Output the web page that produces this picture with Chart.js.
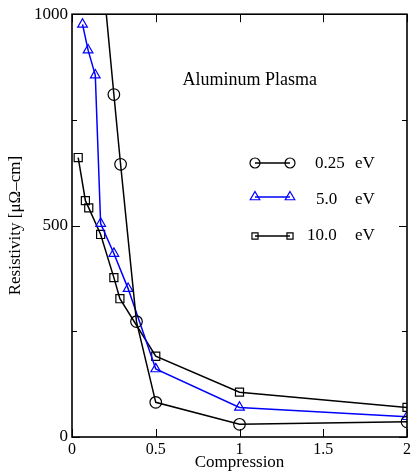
<!DOCTYPE html>
<html>
<head>
<meta charset="utf-8">
<script src="https://cdn.jsdelivr.net/npm/chart.js@4/dist/chart.umd.min.js"></script>
<style>
  body { margin: 0; background: #fff; }
  #wrap { width: 414px; height: 471px; }
</style>
</head>
<body>
<div id="wrap"><canvas id="grafik"></canvas></div>
<script>
// 0.25 eV (circles) - first point sits above the top of the frame
const lowX = [0.15, 0.25, 0.29, 0.385, 0.5, 1.0, 2.0];
const lowY = [1230, 810, 645, 273, 82, 30, 36];

// 5.0 eV (triangles)
const midX = [0.063, 0.096, 0.139, 0.171, 0.25, 0.335, 0.5, 1.0, 2.0];
const midY = [976, 915, 856, 505, 434, 351, 161, 70, 48];

// 10.0 eV (squares)
const highX = [0.037, 0.08, 0.1, 0.171, 0.25, 0.286, 0.5, 1.0, 2.0];
const highY = [661, 559, 542, 479, 377, 327, 191, 106, 70];

const xTicks = [0, 0.5, 1, 1.5, 2];
const yTicks = [0, 500, 1000];
const yMinor = [250, 750];

const serif = "'Liberation Serif', 'Times New Roman', serif";

function pts(xs, ys) {
    return xs.map((x, i) => ({ x: x, y: ys[i] }));
}

// frame, inward tick marks, legend and label inside the plot
const frameAndLegend = {
    id: "frameAndLegend",
    afterDraw(chart) {
        const ctx = chart.ctx;
        const a = chart.chartArea;
        const xs = chart.scales.x;
        const ys = chart.scales.y;
        ctx.save();
        ctx.strokeStyle = "#000";
        ctx.lineWidth = 1.6;
        ctx.strokeRect(a.left, a.top, a.right - a.left, a.bottom - a.top);

        ctx.lineWidth = 1;
        ctx.beginPath();
        xTicks.forEach(v => {
            const px = Math.round(xs.getPixelForValue(v)) + 0.5;
            ctx.moveTo(px, a.bottom); ctx.lineTo(px, a.bottom - 8);
            ctx.moveTo(px, a.top); ctx.lineTo(px, a.top + 8);
        });
        yTicks.forEach(v => {
            const py = Math.round(ys.getPixelForValue(v)) + 0.5;
            ctx.moveTo(a.left, py); ctx.lineTo(a.left + 8, py);
            ctx.moveTo(a.right, py); ctx.lineTo(a.right - 8, py);
        });
        yMinor.forEach(v => {
            const py = Math.round(ys.getPixelForValue(v)) + 0.5;
            ctx.moveTo(a.left, py); ctx.lineTo(a.left + 5, py);
            ctx.moveTo(a.right, py); ctx.lineTo(a.right - 5, py);
        });
        ctx.stroke();

        ctx.fillStyle = "#000";
        ctx.font = "18px " + serif;
        ctx.textAlign = "right";
        ctx.textBaseline = "alphabetic";
        ctx.fillText("Aluminum Plasma", 317, 85);

        const rows = [
            { y: 163, color: "#000", style: "circle", r: 5, num: "0.25", nx: 315, base: 168 },
            { y: 197, color: "#0000ff", style: "triangle", r: 5.5, num: "5.0", nx: 316, base: 204 },
            { y: 236, color: "#000", style: "rect", r: 4.3, num: "10.0", nx: 307, base: 240 }
        ];
        rows.forEach(row => {
            ctx.strokeStyle = row.color;
            ctx.lineWidth = 1.5;
            ctx.beginPath();
            ctx.moveTo(255, row.y);
            ctx.lineTo(290, row.y);
            ctx.stroke();
            ctx.fillStyle = "rgba(0,0,0,0)";
            ctx.lineWidth = 1.2;
            [255, 290].forEach(px => {
                Chart.helpers.drawPoint(ctx, { pointStyle: row.style, radius: row.r, rotation: 0, borderWidth: 1.2 }, px, row.y);
            });
            ctx.fillStyle = "#000";
            ctx.textAlign = "left";
            ctx.font = "17px " + serif;
            ctx.fillText(row.num, row.nx, row.base);
            ctx.fillText("eV", 355, row.base);
        });
        ctx.restore();
    }
};

function serie(label, xs, ys, color, style, r) {
    return {
        label: label,
        data: pts(xs, ys),
        borderColor: color,
        backgroundColor: "rgba(0,0,0,0)",
        borderWidth: 1.5,
        pointStyle: style,
        pointRadius: r,
        pointBorderWidth: 1.2,
        pointBorderColor: color,
        pointBackgroundColor: "rgba(0,0,0,0)",
        tension: 0,
        fill: false
    };
}

new Chart(document.getElementById("grafik"), {
    type: "line",
    data: {
        datasets: [
            serie("0.25 eV", lowX, lowY, "#000000", "circle", 5.8),
            serie("5.0 eV", midX, midY, "#0000ff", "triangle", 5.6),
            serie("10.0 eV", highX, highY, "#000000", "rect", 5.7)
        ]
    },
    options: {
        responsive: true,
        maintainAspectRatio: false,
        animation: false,
        layout: { padding: { top: 14, right: 2, left: 0, bottom: 0 } },
        scales: {
            x: {
                type: "linear",
                min: 0,
                max: 2,
                afterFit: s => { s.height = 34; },
                afterBuildTicks: s => { s.ticks = xTicks.map(v => ({ value: v })); },
                grid: { display: false, drawTicks: false },
                border: { display: false },
                ticks: {
                    color: "#000",
                    padding: 3,
                    maxRotation: 0,
                    font: { family: serif, size: 16 },
                    callback: v => String(v)
                },
                title: {
                    display: true,
                    text: "Compression",
                    color: "#000",
                    padding: { top: 0, bottom: 0 },
                    font: { family: serif, size: 17, lineHeight: 1 }
                }
            },
            y: {
                type: "linear",
                min: 0,
                max: 1000,
                afterFit: s => { s.width = 72; },
                afterBuildTicks: s => { s.ticks = yTicks.map(v => ({ value: v })); },
                grid: { display: false, drawTicks: false },
                border: { display: false },
                ticks: {
                    color: "#000",
                    padding: 4,
                    font: { family: serif, size: 17 },
                    callback: v => String(v)
                },
                title: {
                    display: true,
                    text: "Resistivity [μΩ–cm]",
                    color: "#000",
                    padding: { top: 5, bottom: 0 },
                    font: { family: serif, size: 17 }
                }
            }
        },
        plugins: {
            legend: { display: false },
            tooltip: { enabled: false }
        }
    },
    plugins: [frameAndLegend]
});
</script>
</body>
</html>
